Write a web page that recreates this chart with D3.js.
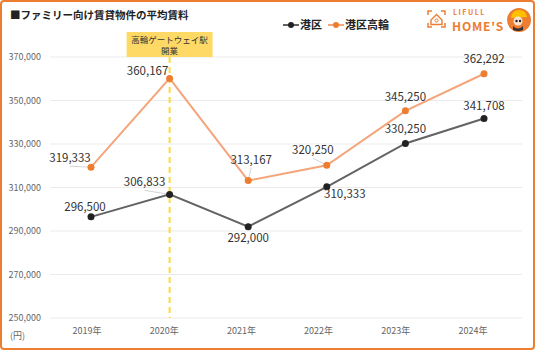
<!DOCTYPE html>
<html>
<head>
<meta charset="utf-8">
<script src="https://cdn.jsdelivr.net/npm/d3@7"></script>
<style>
  body { margin: 0; background: #fff; }
  svg text { font-family: "Noto Sans CJK JP", "Noto Sans", sans-serif; }
</style>
</head>
<body>
<div id="chart"></div>
<script>
/* Family rent chart */

var years = ["2019年", "2020年", "2021年", "2022年", "2023年", "2024年"];
var minatoValues = [296500, 306833, 292000, 310333, 330250, 341708];
var takanawaValues = [319333, 360167, 313167, 320250, 345250, 362292];
var yTicks = [250000, 270000, 290000, 310000, 330000, 350000, 370000];
var seriesNames = ["港区", "港区高輪"];
var eventYear = "2020年";
var eventText = ["高輪ゲートウェイ駅", "開業"];

// label placement (dx, dy from the dot, leader line or not)
var minatoLabelPos = [[-6, -6, false], [-25, -8, true], [0, 15, false], [18, 11, false], [0, -10, false], [0, -9, false]];
var takanawaLabelPos = [[-21, -5, true], [-22, -3, false], [3, -17, true], [-14, -11, true], [0, -10, false], [0, -11, false]];

var colorMinatoLine = "#636363";
var colorMinatoDot = "#222";
var colorTakaLine = "#F4A57A";
var colorTakaDot = "#ED7D31";

var w = 536, h = 362;

var svg = d3.select("#chart").append("svg")
    .attr("width", w)
    .attr("height", h);

svg.append("rect")
    .attr("width", w).attr("height", h).attr("fill", "#fff");

// frame
svg.append("rect")
    .attr("x", 1).attr("y", 1)
    .attr("width", 533).attr("height", 348)
    .attr("rx", 3)
    .attr("fill", "none")
    .attr("stroke", "#ED7D31")
    .attr("stroke-width", 2);

var x = d3.scalePoint().domain(years).range([91, 484]);
var xLabel = d3.scalePoint().domain(years).range([87, 473]);
var y = d3.scaleLinear().domain([250000, 370000]).range([318, 57]);

// Grid
svg.append("g").selectAll("line")
    .data(yTicks)
    .enter()
    .append("line")
    .attr("x1", 50).attr("x2", 522)
    .attr("y1", function (d) { return y(d); })
    .attr("y2", function (d) { return y(d); })
    .attr("stroke", "#ebebeb")
    .attr("stroke-width", 1);

// Y axis labels
var fmt = d3.format(",");
svg.append("g").selectAll("text")
    .data(yTicks)
    .enter()
    .append("text")
    .attr("x", 41)
    .attr("y", function (d) { return y(d) + 3; })
    .attr("text-anchor", "end")
    .attr("font-size", 9)
    .attr("fill", "#666")
    .text(function (d) { return fmt(d); });

svg.append("text")
    .attr("x", 10).attr("y", 339)
    .attr("font-size", 9).attr("fill", "#666")
    .text("(円)");

// X axis labels
svg.append("g").selectAll("text")
    .data(years)
    .enter()
    .append("text")
    .attr("x", function (d) { return xLabel(d); })
    .attr("y", 334)
    .attr("text-anchor", "middle")
    .attr("font-size", 9)
    .attr("fill", "#666")
    .text(function (d) { return d; });

// Event line + box
var ex = x(eventYear);
svg.append("line")
    .attr("x1", ex).attr("x2", ex)
    .attr("y1", 57).attr("y2", 318)
    .attr("stroke", "#FFD93B")
    .attr("stroke-width", 2)
    .attr("stroke-dasharray", "6,4");

svg.append("rect")
    .attr("x", ex - 43).attr("y", 32)
    .attr("width", 86).attr("height", 25)
    .attr("fill", "#FFD966");

svg.append("g").selectAll("text")
    .data(eventText)
    .enter()
    .append("text")
    .attr("x", ex)
    .attr("y", function (d, i) { return 43 + i * 11; })
    .attr("text-anchor", "middle")
    .attr("font-size", 8.5)
    .attr("fill", "#333")
    .text(function (d) { return d; });

// Lines
var line = d3.line()
    .x(function (d, i) { return x(years[i]); })
    .y(function (d) { return y(d); });

function drawSeries(values, lineColor, dotColor, labelPos) {
    svg.append("path")
        .datum(values)
        .attr("d", line)
        .attr("fill", "none")
        .attr("stroke", lineColor)
        .attr("stroke-width", 2);

    var g = svg.append("g");
    values.forEach(function (v, i) {
        var cx = x(years[i]), cy = y(v);
        var p = labelPos[i];
        if (p[2]) {
            g.append("line")
                .attr("x1", cx + p[0])
                .attr("y1", cy + p[1] + 4)
                .attr("x2", cx).attr("y2", cy)
                .attr("stroke", "#c8c8c8")
                .attr("stroke-width", 0.8);
        }
    });
    g.selectAll("circle")
        .data(values)
        .enter()
        .append("circle")
        .attr("cx", function (d, i) { return x(years[i]); })
        .attr("cy", function (d) { return y(d); })
        .attr("r", 3.5)
        .attr("fill", dotColor);

    g.selectAll("text")
        .data(values)
        .enter()
        .append("text")
        .attr("x", function (d, i) { return x(years[i]) + labelPos[i][0]; })
        .attr("y", function (d, i) { return y(d) + labelPos[i][1]; })
        .attr("text-anchor", "middle")
        .attr("font-size", 11.5)
        .attr("fill", "#333")
        .text(function (d) { return fmt(d); });
}

drawSeries(minatoValues, colorMinatoLine, colorMinatoDot, minatoLabelPos);
drawSeries(takanawaValues, colorTakaLine, colorTakaDot, takanawaLabelPos);

// Title
svg.append("text")
    .attr("x", 10).attr("y", 19)
    .attr("font-size", 10.5)
    .attr("font-weight", "bold")
    .attr("fill", "#222")
    .text("■ファミリー向け賃貸物件の平均賃料");

// Legend
var legend = svg.append("g");
var legendItems = [
    { name: seriesNames[0], line: colorMinatoLine, dot: colorMinatoDot, x: 283 },
    { name: seriesNames[1], line: colorTakaLine, dot: colorTakaDot, x: 328 }
];
legendItems.forEach(function (d) {
    legend.append("line")
        .attr("x1", d.x).attr("x2", d.x + 16)
        .attr("y1", 25).attr("y2", 25)
        .attr("stroke", d.line).attr("stroke-width", 2);
    legend.append("circle")
        .attr("cx", d.x + 8).attr("cy", 25).attr("r", 3)
        .attr("fill", d.dot);
    legend.append("text")
        .attr("x", d.x + 17).attr("y", 29)
        .attr("font-size", 11)
        .attr("font-weight", "bold")
        .attr("fill", "#222")
        .text(d.name);
});

// Logo
var logo = svg.append("g");
var lc = "#ED7D31";
// corner brackets
[[428, 11, 1, 1], [445, 11, -1, 1], [428, 27, 1, -1], [445, 27, -1, -1]].forEach(function (c) {
    logo.append("path")
        .attr("d", "M" + c[0] + "," + (c[1] + 4 * c[3]) + "V" + c[1] + "H" + (c[0] + 4 * c[2]))
        .attr("fill", "none").attr("stroke", lc).attr("stroke-width", 1.5);
});
logo.append("path")
    .attr("d", "M431,20 L436.5,14.5 L442,20 V24.5 H431 Z")
    .attr("fill", "none").attr("stroke", lc).attr("stroke-width", 1.4);
logo.append("circle").attr("cx", 436.5).attr("cy", 20.5).attr("r", 1.6)
    .attr("fill", "none").attr("stroke", lc).attr("stroke-width", 1);
logo.append("text")
    .attr("x", 453).attr("y", 15)
    .attr("font-size", 7).attr("font-weight", "bold")
    .attr("letter-spacing", 1.5)
    .attr("fill", lc)
    .text("LIFULL");
logo.append("text")
    .attr("x", 452).attr("y", 30.5)
    .attr("font-size", 12).attr("font-weight", "bold")
    .attr("letter-spacing", 0.8)
    .attr("fill", lc)
    .text("HOME'S");
logo.append("circle").attr("cx", 519).attr("cy", 20).attr("r", 12).attr("fill", lc);
logo.append("path")
    .attr("d", "M511,18 Q512,10 519,10 Q526,10 527,17 Z")
    .attr("fill", "#FFC000");
logo.append("circle").attr("cx", 518).attr("cy", 21).attr("r", 4.5).attr("fill", "#fbe3cf");
logo.append("circle").attr("cx", 516.5).attr("cy", 21).attr("r", 1.2).attr("fill", "#222");
logo.append("circle").attr("cx", 520).attr("cy", 21).attr("r", 1.2).attr("fill", "#222");
logo.append("path")
    .attr("d", "M513,26 Q518,31 523,26 L523,30 Q518,32 513,30 Z")
    .attr("fill", "#333");
</script>
</body>
</html>
